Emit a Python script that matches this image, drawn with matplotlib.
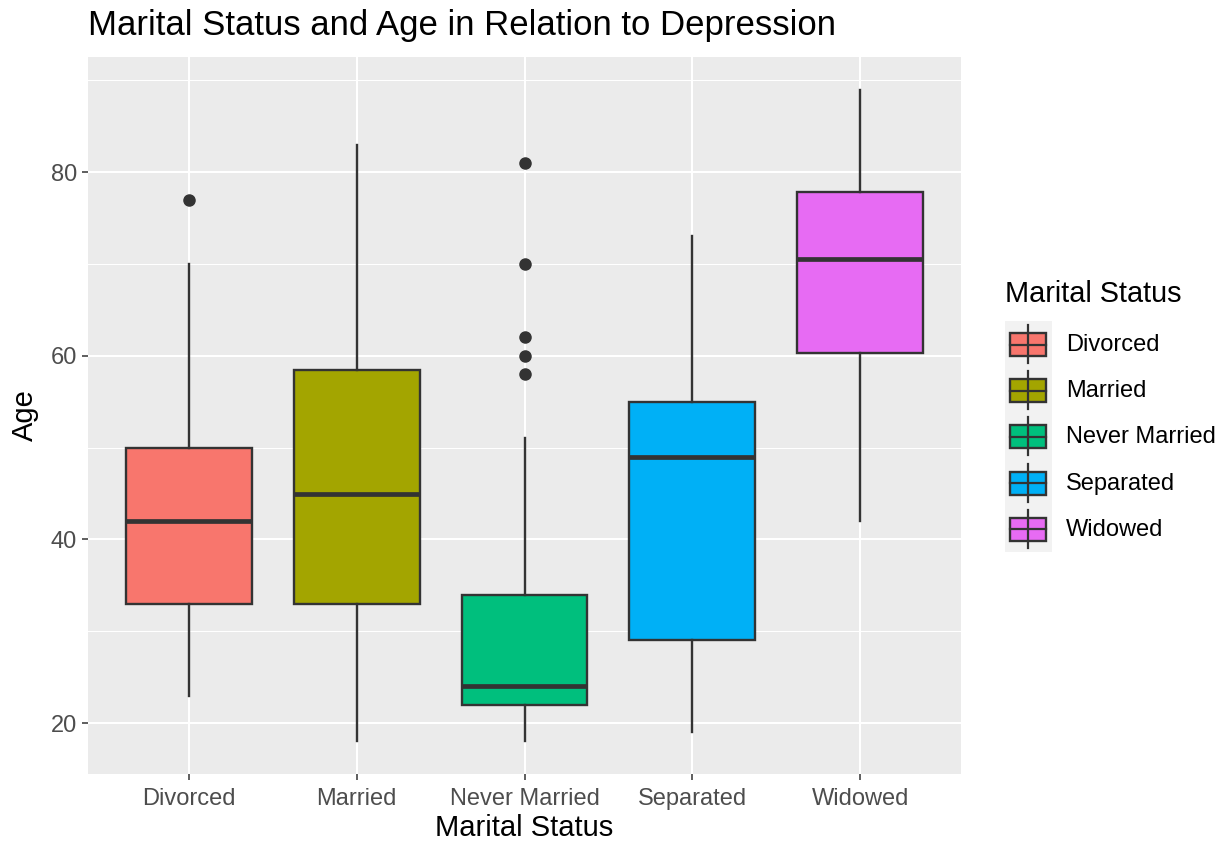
import matplotlib.pyplot as plt
from matplotlib.patches import Rectangle

plt.rcParams['font.family'] = ['Liberation Sans', 'DejaVu Sans']

# data (age box stats per marital status)
groups = ['Divorced', 'Married', 'Never Married', 'Separated', 'Widowed']
colors = ['#F8766D', '#A3A500', '#00BF7D', '#00B0F6', '#E76BF3']
whislo = [23, 18, 18, 19, 42]
q1 = [33, 33, 22, 29, 60.3]
med = [42, 45, 24, 49, 70.5]
q3 = [50, 58.5, 34, 55, 77.8]
whishi = [70, 83, 51, 73, 89]
fliers = [[77], [], [58, 60, 62, 70, 81], [], []]

W, H = 1225, 846
fig = plt.figure(figsize=(W / 100, H / 100), dpi=100)
ax = fig.add_axes([88 / W, 1 - 774 / H, (961 - 88) / W, (774 - 57) / H])
ax.set_facecolor('#EBEBEB')
for s in ax.spines.values():
    s.set_visible(False)

stats = []
for i in range(len(groups)):
    stats.append({'whislo': whislo[i], 'q1': q1[i], 'med': med[i], 'q3': q3[i],
                  'whishi': whishi[i], 'fliers': fliers[i], 'label': groups[i]})

pos = list(range(1, len(groups) + 1))
bp = ax.bxp(stats, positions=pos, widths=0.75, patch_artist=True, showcaps=False,
            boxprops=dict(edgecolor='#333333', linewidth=1.7),
            whiskerprops=dict(color='#333333', linewidth=1.7),
            medianprops=dict(color='#333333', linewidth=3.4, solid_capstyle='butt'),
            flierprops=dict(marker='o', markerfacecolor='#333333', markeredgecolor='#333333',
                            markersize=8))
for patch, c in zip(bp['boxes'], colors):
    patch.set_facecolor(c)

ax.set_xlim(0.4, 5.6)
ax.set_ylim(14.45, 92.55)
ax.set_yticks([20, 40, 60, 80])
ax.set_yticks([30, 50, 70, 90], minor=True)
ax.set_xticks(pos)
ax.set_xticklabels(groups)
ax.set_axisbelow(True)
ax.grid(which='major', color='white', linewidth=1.5)
ax.grid(which='minor', axis='y', color='white', linewidth=0.75)
ax.tick_params(which='major', length=4, width=1.1, color='#333333', labelcolor='#4D4D4D',
               labelsize=17, pad=4)
ax.tick_params(axis='x', pad=6)
ax.tick_params(which='minor', length=0)

ax.set_xlabel('Marital Status', fontsize=21, labelpad=3)
ax.set_ylabel('Age', fontsize=21, labelpad=8)
ax.set_title('Marital Status and Age in Relation to Depression', fontsize=25, loc='left', pad=16)

# legend drawn by hand to look like ggplot keys
lax = fig.add_axes([1005 / W, 1 - 552 / H, 47 / W, 231 / H])
lax.set_xlim(0, 47)
lax.set_ylim(231, 0)
lax.axis('off')
lax.add_patch(Rectangle((0, 0), 47, 231, facecolor='#F2F2F2', edgecolor='none'))
for i, g in enumerate(groups):
    top = i * 46.2
    lax.plot([23, 23], [top + 4, top + 42], color='#333333', linewidth=1.6)
    lax.add_patch(Rectangle((5, top + 12), 36, 23, facecolor=colors[i], edgecolor='#333333',
                            linewidth=1.7))
    lax.plot([5, 41], [top + 23.5, top + 23.5], color='#333333', linewidth=1.6)
    fig.text(1066 / W, 1 - (321 + top + 24) / H, g, fontsize=17, va='center', ha='left')
fig.text(1005 / W, 1 - 294 / H, 'Marital Status', fontsize=20.8, va='center', ha='left')

fig.savefig('out.png', dpi=100)
